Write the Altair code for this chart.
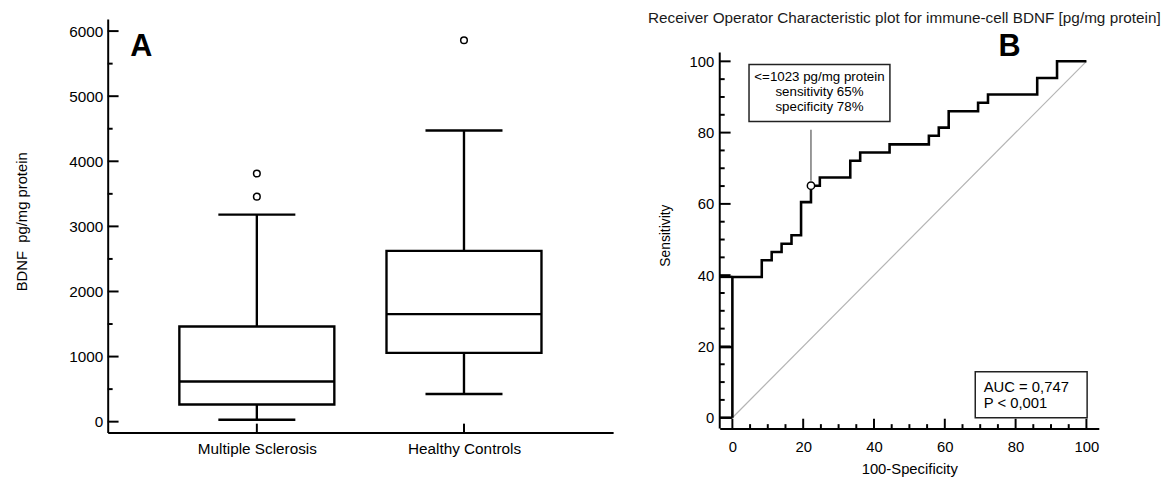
import altair as alt
import pandas as pd

FONT = "Liberation Sans"

# ---------------- Panel A data (box plot summary, pg/mg protein) ----------------
groups = ["Multiple Sclerosis", "Healthy Controls"]
q1 = [264, 1057]
median = [617, 1653]
q3 = [1462, 2623]
whisker_low = [30, 425]
whisker_high = [3180, 4473]
outlier_group = ["Multiple Sclerosis", "Multiple Sclerosis", "Healthy Controls"]
outlier_value = [3812, 3457, 5859]
a_major_ticks = [0, 1000, 2000, 3000, 4000, 5000, 6000]
a_minor_ticks = [500, 1500, 2500, 3500, 4500, 5500]

# ---------------- Panel B data (ROC curve) ----------------
roc_fpr = [0, 0, 8.3, 11.1, 13.9, 16.7, 19.4, 22.2, 24.7, 33.3, 36.1, 44.4,
           55.5, 58.3, 61.1, 69.4, 72.2, 86.1, 91.7, 100]
roc_sens = [0, 39.5, 44.2, 46.5, 48.8, 51.2, 60.5, 65.1, 67.4, 72.1, 74.4, 76.7,
            79.1, 81.4, 86.0, 88.4, 90.7, 95.3, 100, 100]
diag_x = [0, 100]
diag_y = [0, 100]
left_seg_y = [0, 19.8, 39.5]
crit_fpr = [22.2]
crit_sens = [65.1]
b_major_ticks = [0, 20, 40, 60, 80, 100]
b_minor_ticks = [5, 10, 15, 25, 30, 35, 45, 50, 55, 65, 70, 75, 85, 90, 95]
b_yaxis_extent = [-3.05, 102.5]

b_title = "Receiver Operator Characteristic plot for immune-cell BDNF [pg/mg protein]"
note_lines = ["<=1023 pg/mg protein", "sensitivity 65%", "specificity 78%"]
note_line_y = [95.6, 91.4, 87.1]
note_x = [24.6]
note_box = {"x": [4.7], "x2": [44.5], "y": [83.1], "y2": [99.1]}
connector = {"x": [22.2], "y": [66.5], "y2": [80.8]}
auc_lines = ["AUC = 0,747", "P < 0,001"]
auc_line_y = [8.6, 4.2]
auc_x = [71.0]
auc_box = {"x": [68.6], "x2": [100.2], "y": [0], "y2": [12.9]}
panel_labels = ["A", "B"]
b_label_pos = {"x": [78.3], "y": [101.6]}

# ---------------- Panel A ----------------
WA, HA = 512, 419
BOXW, CAPW = 157, 78

xA_scale = alt.Scale(type="point", domain=groups, padding=0.72)
yA_scale = alt.Scale(domain=[-167, 6187], nice=False, zero=False)
xA_axis = alt.Axis(title=None, ticks=False, tickSize=0, labelAngle=0, labelFontSize=15.5,
                   labelPadding=9, labelColor="black", domainColor="black", domainWidth=2,
                   grid=False, labelFont=FONT)
yA_axis = alt.Axis(title="BDNF\u00a0 pg/mg protein", values=a_major_ticks, format="d",
                   ticks=False, tickSize=0,
                   labelFontSize=15.5, labelPadding=5, labelColor="black", domainColor="black",
                   domainWidth=2, grid=False, titleFontSize=15, titleFontWeight="normal",
                   titleColor="black", titlePadding=40, labelFont=FONT, titleFont=FONT,
                   titleY=205)


def xA(field):
    return alt.X(f"{field}:N", scale=xA_scale, axis=xA_axis, sort=groups)


def yA(field):
    return alt.Y(f"{field}:Q", scale=yA_scale, axis=yA_axis)


box_df = pd.DataFrame({"group": groups, "q1": q1, "median": median, "q3": q3,
                       "lo": whisker_low, "hi": whisker_high})
out_df = pd.DataFrame({"group": outlier_group, "value": outlier_value})
a_major_df = pd.DataFrame({"v": a_major_ticks})
a_minor_df = pd.DataFrame({"v": a_minor_ticks})
a_cat_df = pd.DataFrame({"group": groups})
a_label_df = pd.DataFrame({"label": [panel_labels[0]]})

base_box = alt.Chart(box_df)
whisk_up = base_box.mark_rule(color="black", strokeWidth=2.4).encode(
    x=xA("group"), y=yA("q3"), y2="hi")
whisk_lo = base_box.mark_rule(color="black", strokeWidth=2.4).encode(
    x=xA("group"), y=yA("lo"), y2="q1")
boxes = base_box.mark_bar(size=BOXW, fill="white", stroke="black", strokeWidth=2.4,
                          opacity=1).encode(
    x=xA("group"), y=yA("q1"), y2="q3")
med = base_box.mark_tick(size=BOXW, thickness=2.4, color="black", orient="horizontal",
                         opacity=1).encode(
    x=xA("group"), y=yA("median"))
cap_hi = base_box.mark_tick(size=CAPW, thickness=2.4, color="black", orient="horizontal",
                            opacity=1).encode(
    x=xA("group"), y=yA("hi"))
cap_lo = base_box.mark_tick(size=CAPW, thickness=2.4, color="black", orient="horizontal",
                            opacity=1).encode(
    x=xA("group"), y=yA("lo"))
outl = alt.Chart(out_df).mark_point(shape="circle", filled=False, color="black",
                                    strokeWidth=1.5, size=45, opacity=1).encode(
    x=xA("group"), y=yA("value"))
a_yt_major = alt.Chart(a_major_df).mark_rule(color="black", strokeWidth=2).encode(
    y=yA("v"), x=alt.value(0), x2=alt.value(11))
a_yt_minor = alt.Chart(a_minor_df).mark_rule(color="black", strokeWidth=2).encode(
    y=yA("v"), x=alt.value(0), x2=alt.value(5))
a_xt = alt.Chart(a_cat_df).mark_rule(color="black", strokeWidth=2).encode(
    x=xA("group"), y=alt.value(HA), y2=alt.value(HA - 9))
a_lab = alt.Chart(a_label_df).mark_text(fontSize=31, fontWeight="bold", font=FONT,
                                        align="center", baseline="alphabetic", color="black").encode(
    text="label:N", x=alt.value(34), y=alt.value(38))

panelA = alt.layer(a_yt_major, a_yt_minor, a_xt, whisk_up, whisk_lo, boxes, med,
                   cap_hi, cap_lo, outl, a_lab).properties(width=WA, height=HA)

# ---------------- Panel B ----------------
WB, HB = 384, 415
xB_scale = alt.Scale(domain=[-3.57, 103.5], nice=False, zero=False)
yB_scale = alt.Scale(domain=[-3.05, 111.9], nice=False, zero=False)
xB_axis = alt.Axis(title="100-Specificity", values=b_major_ticks, ticks=False, tickSize=0,
                   labelFontSize=15, labelPadding=11, labelColor="black", domainColor="black",
                   domainWidth=2, grid=False, titleFontSize=15, titleFontWeight="normal",
                   titleColor="black", titlePadding=7, labelFont=FONT, titleFont=FONT)
yB_axis = alt.Axis(title="Sensitivity", values=b_major_ticks, ticks=False, tickSize=0,
                   labelFontSize=15, labelPadding=6, labelColor="black", domain=False,
                   grid=False, titleFontSize=14, titleFontWeight="normal",
                   titleColor="black", titlePadding=17, labelFont=FONT, titleFont=FONT,
                   titleY=219)


def xB(field):
    return alt.X(f"{field}:Q", scale=xB_scale, axis=xB_axis)


def yB(field):
    return alt.Y(f"{field}:Q", scale=yB_scale, axis=yB_axis)


roc_df = pd.DataFrame({"fpr": roc_fpr, "sens": roc_sens, "i": list(range(len(roc_fpr)))})
diag_df = pd.DataFrame({"x": diag_x, "y": diag_y})
left_df = pd.DataFrame({"y": left_seg_y, "x0": [0] * len(left_seg_y)})
crit_df = pd.DataFrame({"fpr": crit_fpr, "sens": crit_sens})
b_major_df = pd.DataFrame({"v": b_major_ticks})
b_minor_df = pd.DataFrame({"v": b_minor_ticks})
b_yaxis_df = pd.DataFrame({"y": [b_yaxis_extent[0]], "y2": [b_yaxis_extent[1]]})
note_df = pd.DataFrame({"t": note_lines, "y": note_line_y, "x": note_x * len(note_lines)})
auc_df = pd.DataFrame({"t": auc_lines, "y": auc_line_y, "x": auc_x * len(auc_lines)})
note_box_df = pd.DataFrame(note_box)
auc_box_df = pd.DataFrame(auc_box)
conn_df = pd.DataFrame(connector)
b_label_df = pd.DataFrame({"label": [panel_labels[1]], **b_label_pos})
b_title_df = pd.DataFrame({"t": [b_title]})

b_yaxis_line = alt.Chart(b_yaxis_df).mark_rule(color="black", strokeWidth=2).encode(
    y=yB("y"), y2="y2", x=alt.value(0))
b_xt_major = alt.Chart(b_major_df).mark_rule(color="black", strokeWidth=2).encode(
    x=xB("v"), y=alt.value(HB), y2=alt.value(HB - 10))
b_xt_minor = alt.Chart(b_minor_df).mark_rule(color="black", strokeWidth=2).encode(
    x=xB("v"), y=alt.value(HB), y2=alt.value(HB - 4.5))
b_yt_major = alt.Chart(b_major_df).mark_rule(color="black", strokeWidth=2).encode(
    y=yB("v"), x=alt.value(0), x2=alt.value(11))
b_yt_minor = alt.Chart(b_minor_df).mark_rule(color="black", strokeWidth=2).encode(
    y=yB("v"), x=alt.value(0), x2=alt.value(5))
diag = alt.Chart(diag_df).mark_line(color="#b4b4b4", strokeWidth=1.2).encode(
    x=xB("x"), y=yB("y"))
left = alt.Chart(left_df).mark_rule(color="black", strokeWidth=2.4).encode(
    y=yB("y"), x=xB("x0"), x2=alt.value(0))
roc = alt.Chart(roc_df).mark_line(interpolate="step-after", color="black", strokeWidth=2.6).encode(
    x=xB("fpr"), y=yB("sens"), order="i:Q")
conn = alt.Chart(conn_df).mark_rule(color="#333333", strokeWidth=1).encode(
    x=xB("x"), y=yB("y"), y2="y2")
crit = alt.Chart(crit_df).mark_point(shape="circle", filled=True, fill="white", stroke="black",
                                     strokeWidth=1.5, size=55, opacity=1).encode(
    x=xB("fpr"), y=yB("sens"))
note_box_m = alt.Chart(note_box_df).mark_rect(fill="white", stroke="#222222", strokeWidth=1.5).encode(
    x=xB("x"), x2="x2", y=yB("y"), y2="y2")
note_txt = alt.Chart(note_df).mark_text(fontSize=13.5, font=FONT, align="center", baseline="middle",
                                        color="black").encode(
    x=xB("x"), y=yB("y"), text="t:N")
auc_box_m = alt.Chart(auc_box_df).mark_rect(fill="white", stroke="#222222", strokeWidth=1.5).encode(
    x=xB("x"), x2="x2", y=yB("y"), y2="y2")
auc_txt = alt.Chart(auc_df).mark_text(fontSize=15, font=FONT, align="left", baseline="middle",
                                      color="black").encode(
    x=xB("x"), y=yB("y"), text="t:N")
b_lab = alt.Chart(b_label_df).mark_text(fontSize=31, fontWeight="bold", font=FONT, align="center",
                                        baseline="alphabetic", color="black").encode(
    x=xB("x"), y=yB("y"), text="label:N")
b_ttl = alt.Chart(b_title_df).mark_text(fontSize=15.5, font=FONT, align="center", baseline="top",
                                        color="#1a1a1a").encode(
    text="t:N", x=alt.value(WB / 2 - 5), y=alt.value(-8))

panelB = alt.layer(b_yaxis_line, b_xt_major, b_xt_minor, b_yt_major, b_yt_minor, diag, left, roc,
                   conn, crit, note_box_m, note_txt, auc_box_m, auc_txt, b_lab, b_ttl).properties(
    width=WB, height=HB)

chart = alt.hconcat(panelA, panelB, spacing=35).configure_view(stroke=None).properties(
    padding={"left": 6, "top": 0, "right": 0, "bottom": 0})

chart.save("out.html", embed_options={"renderer": "svg", "actions": False})
